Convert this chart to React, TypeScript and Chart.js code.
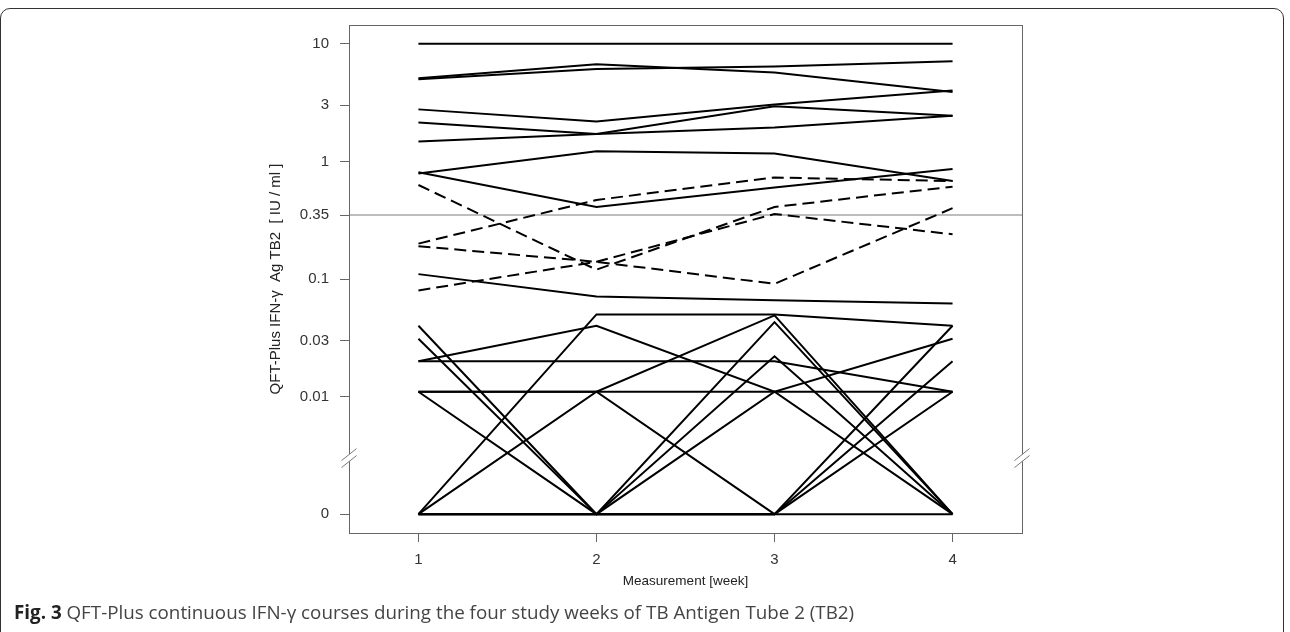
import React, { useEffect, useRef } from "react";
import { Chart, registerables } from "chart.js";

Chart.register(...registerables);

// ---- data ----
const WEEKS = [1, 2, 3, 4];
const X_TICKS = [1, 2, 3, 4];
const Y_TICKS = [0, 0.01, 0.03, 0.1, 0.35, 1, 3, 10];
const Y_TICK_LABELS = ["0", "0.01", "0.03", "0.1", "0.35", "1", "3", "10"];
const CUTOFF = 0.35;
const ZERO_AT = 0.001; // position of "0" on the broken log axis
const BREAK_AT = 0.003; // position of the axis break marks
const X_MIN = 0.61;
const X_MAX = 4.39;
const Y_MIN = Math.pow(10, -3.16);
const Y_MAX = Math.pow(10, 1.16);

// solid courses (IFN-gamma IU/ml at weeks 1..4)
const solidCourses = [
  [10, 10, 10, 10],
  [5.1, 6.7, 5.7, 3.9],
  [5.0, 6.1, 6.4, 7.1],
  [2.77, 2.19, 3.05, 4.0],
  [2.14, 1.71, 2.95, 2.44],
  [1.48, 1.71, 1.94, 2.44],
  [0.79, 1.22, 1.17, 0.68],
  [0.81, 0.41, 0.6, 0.86],
  [0.11, 0.071, 0.066, 0.062],
  [0.02, 0.04, 0.011, 0.031],
  [0.02, 0.02, 0.02, 0.011],
  [0, 0.05, 0.05, 0.04],
  [0.04, 0, 0.043, 0],
  [0.031, 0, 0.022, 0],
  [0.011, 0, 0.011, 0],
  [0.011, 0.011, 0.011, 0.011],
  [0.011, 0.011, 0.049, 0],
  [0, 0.011, 0, 0.04],
  [0, 0, 0, 0.02],
  [0, 0, 0, 0.011],
  [0, 0, 0, 0],
];

// dashed courses (crossing the 0.35 cut-off)
const dashedCourses = [
  [0.63, 0.12, 0.41, 0.61],
  [0.2, 0.47, 0.73, 0.68],
  [0.19, 0.14, 0.091, 0.4],
  [0.08, 0.14, 0.357, 0.24],
];

const CAPTION_LABEL = "Fig. 3";
const CAPTION_TEXT =
  " QFT-Plus continuous IFN-\u03b3 courses during the four study weeks of TB Antigen Tube 2 (TB2)";
const X_TITLE = "Measurement [week]";
const Y_TITLE = "QFT-Plus IFN-\u03b3  Ag TB2  [ IU / ml ]";

const toPos = (v: number) => (v === 0 ? ZERO_AT : v);
const toPoints = (arr: number[]) => arr.map((v, i) => ({ x: WEEKS[i], y: toPos(v) }));

const FAMILY = "'Liberation Sans', Arial, sans-serif";
const AXIS_FONT = { family: FAMILY, size: 15 };

const boxPlugin = {
  id: "rbox",
  afterDatasetsDraw(chart: any) {
    const { ctx, chartArea } = chart;
    const ys = chart.scales.y;
    const { left, right, top, bottom } = chartArea;
    ctx.save();
    ctx.strokeStyle = "#666";
    ctx.lineWidth = 1;
    ctx.strokeRect(Math.round(left) + 0.5, Math.round(top) + 0.5, Math.round(right - left), Math.round(bottom - top));
    // axis break marks
    const by = ys.getPixelForValue(BREAK_AT);
    const drawBreak = (cx: number) => {
      const w = 7.5, h = 6, gap = 3.5;
      ctx.fillStyle = "#fff";
      ctx.beginPath();
      ctx.moveTo(cx - w, by + h - gap);
      ctx.lineTo(cx + w, by - h - gap);
      ctx.lineTo(cx + w, by - h + gap);
      ctx.lineTo(cx - w, by + h + gap);
      ctx.closePath();
      ctx.fill();
      ctx.strokeStyle = "#777";
      ctx.beginPath();
      ctx.moveTo(cx - w, by + h - gap);
      ctx.lineTo(cx + w, by - h - gap);
      ctx.moveTo(cx - w, by + h + gap);
      ctx.lineTo(cx + w, by - h + gap);
      ctx.stroke();
    };
    drawBreak(left);
    drawBreak(right);
    ctx.restore();
  },
};

export default function App() {
  const ref = useRef<HTMLCanvasElement | null>(null);

  useEffect(() => {
    if (!ref.current) return;
    const datasets: any[] = [];
    solidCourses.forEach((c, i) =>
      datasets.push({
        label: "solid " + (i + 1),
        data: toPoints(c),
        borderColor: "#000",
        borderWidth: 2,
        pointRadius: 0,
        tension: 0,
        fill: false,
      })
    );
    dashedCourses.forEach((c, i) =>
      datasets.push({
        label: "dashed " + (i + 1),
        data: toPoints(c),
        borderColor: "#000",
        borderWidth: 2,
        borderDash: [12, 6],
        pointRadius: 0,
        tension: 0,
        fill: false,
      })
    );
    datasets.push({
      label: "cut-off",
      data: [
        { x: X_MIN, y: CUTOFF },
        { x: X_MAX, y: CUTOFF },
      ],
      borderColor: "#bdbdbd",
      borderWidth: 2,
      pointRadius: 0,
      fill: false,
    });

    const chart = new Chart(ref.current, {
      type: "line",
      data: { datasets },
      plugins: [boxPlugin],
      options: {
        animation: false,
        responsive: false,
        devicePixelRatio: 1,
        layout: { padding: { left: 0, right: 268, top: 25, bottom: 0 } },
        plugins: { legend: { display: false }, tooltip: { enabled: false } },
        scales: {
          x: {
            type: "linear",
            min: X_MIN,
            max: X_MAX,
            afterBuildTicks: (s: any) => {
              s.ticks = X_TICKS.map((v) => ({ value: v }));
            },
            afterFit: (s: any) => {
              s.height = 99;
            },
            ticks: {
              callback: (v: any) => String(v),
              font: AXIS_FONT,
              color: "#333",
              padding: 9,
              maxRotation: 0,
            },
            grid: { drawOnChartArea: false, drawTicks: true, tickLength: 9, color: "#666", lineWidth: 1 },
            border: { display: false },
            title: {
              display: true,
              text: X_TITLE,
              font: { family: FAMILY, size: 13.5 },
              color: "#222",
              padding: { top: 0, bottom: 43 },
            },
          },
          y: {
            type: "logarithmic",
            min: Y_MIN,
            max: Y_MAX,
            afterBuildTicks: (s: any) => {
              s.ticks = Y_TICKS.map((v) => ({ value: toPos(v) }));
            },
            afterFit: (s: any) => {
              s.width = 349;
            },
            ticks: {
              callback: (_v: any, i: number) => Y_TICK_LABELS[i],
              font: AXIS_FONT,
              color: "#333",
              padding: 11,
              autoSkip: false,
            },
            grid: { drawOnChartArea: false, drawTicks: true, tickLength: 9, color: "#666", lineWidth: 1 },
            border: { display: false },
            title: {
              display: true,
              text: Y_TITLE,
              font: { family: FAMILY, size: 15 },
              color: "#222",
              padding: { top: 267, bottom: 0 },
            },
          },
        },
      },
    } as any);
    return () => chart.destroy();
  }, []);

  return (
    <div
      style={{
        position: "fixed",
        left: 0,
        top: 0,
        width: 1290,
        height: 632,
        overflow: "hidden",
        background: "#fff",
      }}
    >
      <div
        style={{
          position: "absolute",
          left: 0,
          top: 8,
          width: 1284,
          height: 640,
          border: "1px solid #333",
          borderRadius: 10,
          boxSizing: "border-box",
        }}
      />
      <canvas ref={ref} width={1290} height={632} style={{ position: "absolute", left: 0, top: 0 }} />
      <div
        style={{
          position: "absolute",
          left: 14,
          top: 599,
          fontFamily: "'Open Sans', sans-serif",
          fontSize: 18.8,
          lineHeight: "26px",
          color: "#444",
          whiteSpace: "nowrap",
        }}
      >
        <span style={{ fontWeight: 700, color: "#222" }}>{CAPTION_LABEL}</span>
        {CAPTION_TEXT}
      </div>
    </div>
  );
}
